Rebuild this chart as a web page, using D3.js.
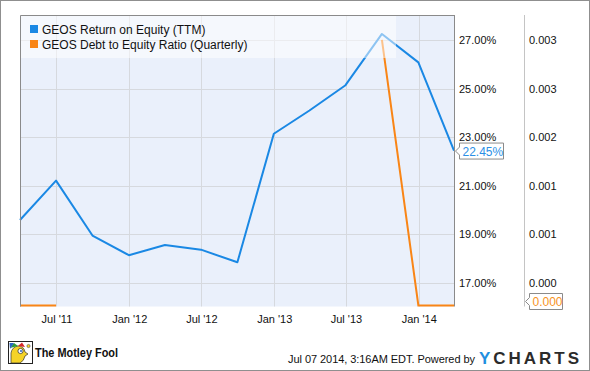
<!DOCTYPE html>
<html>
<head>
<meta charset="utf-8">
<script src="https://cdn.jsdelivr.net/npm/d3@7"></script>
<style>
  body { margin: 0; background: #fff; }
  svg { display: block; font-family: Arial, "Liberation Sans", sans-serif; }
</style>
</head>
<body>
<svg id="chart" width="590" height="371"></svg>
<script>
// === Data ===
const quarterDates = ["2011-03-31", "2011-06-30", "2011-09-30", "2011-12-31", "2012-03-31", "2012-06-30",
	"2012-09-30", "2012-12-31", "2013-03-31", "2013-06-30", "2013-09-30", "2013-12-31", "2014-03-31"];
const roeValues = [19.59, 21.21, 18.95, 18.14, 18.56, 18.37, 17.85, 23.14, 24.1, 25.14, 27.25, 26.08, 22.45];
const debtValues = [0, 0, null, null, null, null, null, null, null, null, 0.0032, 0, 0];
const xTickDates = ["2011-07-01", "2012-01-01", "2012-07-01", "2013-01-01", "2013-07-01", "2014-01-01"];
const xTickLabels = ["Jul '11", "Jan '12", "Jul '12", "Jan '13", "Jul '13", "Jan '14"];
const leftTicks = [17, 19, 21, 23, 25, 27];
const seriesNames = ["GEOS Return on Equity (TTM)", "GEOS Debt to Equity Ratio (Quarterly)"];
const seriesColors = ["#1a88e4", "#f98516"];

const parse = d3.timeParse("%Y-%m-%d");
const rows = quarterDates.map((d, i) => ({ date: parse(d), roe: roeValues[i], debt: debtValues[i] }));

const svg = d3.select("#chart");
const plot = { left: 20, top: 15, right: 454, bottom: 306.5 };

// === Scales ===
const x = d3.scaleTime().domain([parse("2011-03-31"), parse("2014-03-31")]).range([plot.left, plot.right]);
const yLeft = d3.scaleLinear().domain([16.03, 28.03]).range([plot.bottom, plot.top]);
const yRight = d3.scaleLinear().domain([0, 0.0035]).range([plot.bottom, plot.top]);

// outer frame
svg.append("rect").attr("x", 0.5).attr("y", 0.5).attr("width", 589).attr("height", 370)
	.attr("fill", "#fff").attr("stroke", "#8f8f8f");

// plot background
svg.append("rect").attr("x", plot.left).attr("y", plot.top)
	.attr("width", plot.right - plot.left).attr("height", plot.bottom - plot.top)
	.attr("fill", "#eaf0fb");

// grid
const grid = svg.append("g").attr("stroke", "#d6d9de").attr("stroke-width", 1);
grid.selectAll(".hg").data(leftTicks).join("line")
	.attr("x1", plot.left).attr("x2", plot.right)
	.attr("y1", d => Math.round(yLeft(d)) + 0.5).attr("y2", d => Math.round(yLeft(d)) + 0.5);
grid.selectAll(".vg").data(xTickDates).join("line")
	.attr("y1", plot.top).attr("y2", plot.bottom)
	.attr("x1", d => Math.round(x(parse(d))) + 0.5).attr("x2", d => Math.round(x(parse(d))) + 0.5);

// lines
const roeLine = d3.line().x(d => x(d.date)).y(d => yLeft(d.roe));
const debtLine = d3.line().defined(d => d.debt !== null).x(d => x(d.date)).y(d => Math.min(yRight(d.debt), plot.bottom - 1));

svg.append("path").datum(rows).attr("d", debtLine)
	.attr("fill", "none").attr("stroke", seriesColors[1]).attr("stroke-width", 2);
svg.append("path").datum(rows).attr("d", roeLine)
	.attr("fill", "none").attr("stroke", seriesColors[0]).attr("stroke-width", 2).attr("stroke-linejoin", "round");

// legend (semi-transparent box over the lines)
svg.append("rect").attr("x", plot.left).attr("y", plot.top + 0.5).attr("width", 376).attr("height", 42.5)
	.attr("fill", "#fff").attr("opacity", 0.5);
const legend = svg.append("g").selectAll("g").data(seriesNames).join("g")
	.attr("transform", (d, i) => `translate(30, ${25 + i * 15})`);
legend.append("rect").attr("width", 8).attr("height", 8).attr("fill", (d, i) => seriesColors[i]);
legend.append("text").attr("x", 12).attr("y", 8.5).attr("font-size", 12).attr("fill", "#111").text(d => d);

// frame lines
svg.append("path").attr("d", `M${plot.left + 0.5},${plot.bottom} V${plot.top + 0.5} H${plot.right}`)
	.attr("fill", "none").attr("stroke", "#8a8a8a");
svg.append("line").attr("x1", plot.right + 0.5).attr("x2", plot.right + 0.5)
	.attr("y1", plot.top).attr("y2", plot.bottom).attr("stroke", "#8a8a8a");
svg.append("line").attr("x1", 524.5).attr("x2", 524.5)
	.attr("y1", plot.top).attr("y2", plot.bottom).attr("stroke", "#c4c4c4");

// x axis
const xAxis = svg.append("g").attr("transform", `translate(0, ${plot.bottom})`)
	.call(d3.axisBottom(x).tickValues(xTickDates.map(parse)).tickSize(0).tickPadding(9)
		.tickFormat((d, i) => xTickLabels[i]));
xAxis.select(".domain").remove();
xAxis.selectAll("text").attr("font-size", 11).attr("fill", "#111").attr("font-family", null);

// left-value axis (drawn on the right)
const yAxisL = svg.append("g").attr("transform", `translate(${plot.right}, 0)`)
	.call(d3.axisRight(yLeft).tickValues(leftTicks).tickSize(0).tickPadding(5).tickFormat(d => d3.format(".2f")(d) + "%"));
yAxisL.select(".domain").remove();
yAxisL.selectAll("text").attr("font-size", 11).attr("fill", "#111").attr("font-family", null);

// right-value axis shares the same gridlines
const rightTicks = leftTicks.map(v => yRight.invert(yLeft(v)));
const yAxisR = svg.append("g").attr("transform", "translate(524, 0)")
	.call(d3.axisRight(yRight).tickValues(rightTicks).tickSize(0).tickPadding(5).tickFormat(d3.format(".3f")));
yAxisR.select(".domain").remove();
yAxisR.selectAll("text").attr("font-size", 11).attr("fill", "#111").attr("font-family", null);

// last-value callouts
function callout(x0, yc, w, label, color) {
	const h = 16, top = yc - h / 2;
	svg.append("path")
		.attr("d", `M${x0 + 5},${top} H${x0 + 5 + w} V${top + h} H${x0 + 5} V${yc + 4} L${x0 + 1},${yc} L${x0 + 5},${yc - 4} Z`)
		.attr("fill", "#fff").attr("stroke", "#8a8a8a");
	svg.append("text").attr("x", x0 + 8).attr("y", yc + 4.5).attr("font-size", 12).attr("fill", color).text(label);
}
const last = rows[rows.length - 1];
callout(plot.right + 0.5, yLeft(last.roe) + 0.5, 44, d3.format(".2f")(last.roe) + "%", "#2b8fe6");
callout(524.5, Math.min(yRight(last.debt), plot.bottom - 5), 33, d3.format(".3f")(last.debt), "#f7931e");

// footer: Motley Fool logo
const logo = svg.append("g").attr("transform", "translate(8, 341)");
logo.append("rect").attr("x", 0.5).attr("y", 0.5).attr("width", 24).attr("height", 22).attr("fill", "#fff").attr("stroke", "#222");
logo.append("path").attr("d", "M3,22 L3,12 Q4,6 10,5 Q16,5 17,11 L20,13 L17,15 Q16,20 12,22 Z").attr("fill", "#f5d327").attr("stroke", "#333").attr("stroke-width", 0.7);
logo.append("path").attr("d", "M2,7 L6,2 L10,5 Z").attr("fill", "#2e9b3a");
logo.append("path").attr("d", "M10,5 L14,1.5 L17,6 Z").attr("fill", "#d8282a");
logo.append("path").attr("d", "M2,8 L1.5,2 L6,2 Z").attr("fill", "#2a64c6");
logo.append("circle").attr("cx", 12.5).attr("cy", 10).attr("r", 2.6).attr("fill", "#fff").attr("stroke", "#222").attr("stroke-width", 0.7);
logo.append("circle").attr("cx", 13).attr("cy", 10).attr("r", 1).attr("fill", "#2a64c6");
logo.append("circle").attr("cx", 20.5).attr("cy", 5).attr("r", 1.6).attr("fill", "#f5d327").attr("stroke", "#333").attr("stroke-width", 0.5);
svg.append("text").attr("x", 35).attr("y", 356.5).attr("font-size", 13).attr("font-weight", "bold")
	.attr("fill", "#111").attr("textLength", 83).attr("lengthAdjust", "spacingAndGlyphs").text("The Motley Fool");

// footer: timestamp + YCharts
svg.append("text").attr("x", 288).attr("y", 363).attr("font-size", 11).attr("fill", "#111")
	.attr("textLength", 187).attr("lengthAdjust", "spacing").text("Jul 07 2014, 3:16AM EDT.  Powered by");
const yc = svg.append("text").attr("x", 479).attr("y", 363.5).attr("font-size", 17).attr("font-weight", "bold")
	.attr("textLength", 100).attr("lengthAdjust", "spacing");
yc.append("tspan").attr("fill", "#1f8fe0").text("Y");
yc.append("tspan").attr("fill", "#2b2b2b").text("CHARTS");
</script>
</body>
</html>
